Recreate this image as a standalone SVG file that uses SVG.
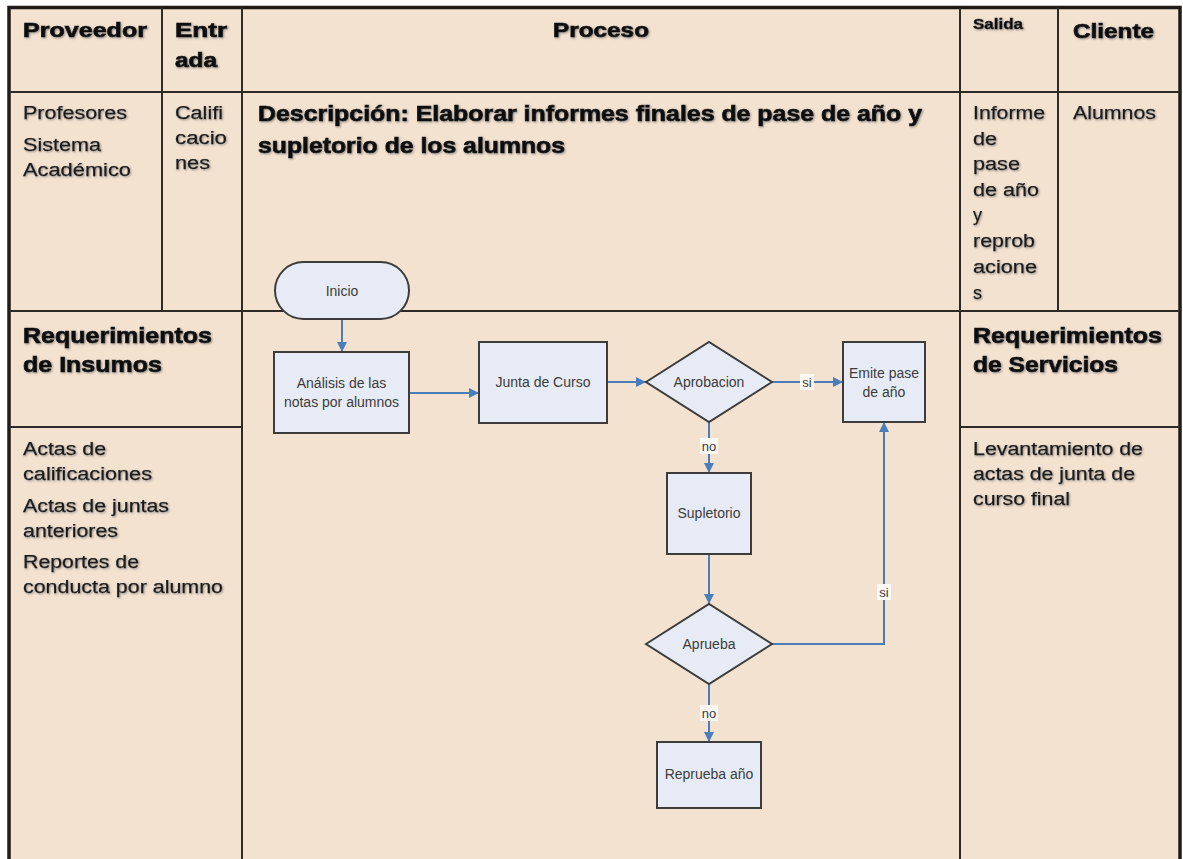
<svg xmlns="http://www.w3.org/2000/svg" width="1183" height="859" viewBox="0 0 1183 859">
<style>
.grid{stroke:#2e2a27;stroke-width:2;fill:none}
.hd{font-family:"Liberation Sans",Arial,sans-serif;font-weight:bold;fill:#111;stroke:#111;stroke-width:0.7;filter:url(#sh)}
.tx{font-family:"Liberation Sans",Arial,sans-serif;fill:#1a1a1a;stroke:#1a1a1a;stroke-width:0.25;font-size:18px;filter:url(#sh)}
.node{fill:#e6ebf6;stroke:#3c3c3c;stroke-width:2}
.nt{font-family:"Liberation Sans",Arial,sans-serif;font-size:14px;fill:#3c3c3c;text-anchor:middle}
.cn{stroke:#4a7ebb;stroke-width:2;fill:none}
.lb{fill:#fbf8f4}
.lt{font-family:"Liberation Sans",Arial,sans-serif;font-size:13px;fill:#3c3c3c;text-anchor:middle}
</style>
<defs>
<filter id="sh" x="-5%" y="-20%" width="110%" height="140%">
<feDropShadow dx="1" dy="1" stdDeviation="0.8" flood-color="#666" flood-opacity="0.7"/>
</filter>
<marker id="ar" markerUnits="userSpaceOnUse" markerWidth="10" markerHeight="10" viewBox="0 0 10 10" refX="10" refY="5" orient="auto">
<path d="M0,0 L10,5 L0,10 z" fill="#4a7ebb"/>
</marker>
</defs>
<rect x="0" y="0" width="1183" height="859" fill="#ffffff"/>
<g id="table">
<rect x="9" y="7.5" width="1171" height="870" fill="#f4e2d0" stroke="#1e1b19" stroke-width="3.5"/>
<path class="grid" d="M9,92 H1180 M9,311 H1180 M162,7.5 V311 M242,7.5 V870 M960,7.5 V870 M1058,7.5 V311 M9,427 H242 M960,427 H1180"/>
</g>
<g id="texts">
<text class="hd" x="23" y="37" font-size="20" textLength="124" lengthAdjust="spacingAndGlyphs">Proveedor</text>
<text class="hd" x="175" y="37" font-size="20" textLength="52" lengthAdjust="spacingAndGlyphs">Entr</text>
<text class="hd" x="175" y="67" font-size="20" textLength="42" lengthAdjust="spacingAndGlyphs">ada</text>
<text class="hd" x="553" y="37" font-size="20" textLength="96" lengthAdjust="spacingAndGlyphs">Proceso</text>
<text class="hd" x="973" y="29" font-size="14" textLength="50" lengthAdjust="spacingAndGlyphs" style="stroke-width:0.4">Salida</text>
<text class="hd" x="1073" y="38" font-size="20" textLength="81" lengthAdjust="spacingAndGlyphs">Cliente</text>
<text class="tx" x="23" y="119" textLength="104" lengthAdjust="spacingAndGlyphs">Profesores</text>
<text class="tx" x="23" y="151" textLength="78" lengthAdjust="spacingAndGlyphs">Sistema</text>
<text class="tx" x="23" y="176" textLength="108" lengthAdjust="spacingAndGlyphs">Académico</text>
<text class="tx" x="175" y="119" textLength="48" lengthAdjust="spacingAndGlyphs">Califi</text>
<text class="tx" x="175" y="144" textLength="52" lengthAdjust="spacingAndGlyphs">cacio</text>
<text class="tx" x="175" y="169" textLength="35" lengthAdjust="spacingAndGlyphs">nes</text>
<text class="hd" x="258" y="121" font-size="22" textLength="664" lengthAdjust="spacingAndGlyphs">Descripción: Elaborar informes finales de pase de año y</text>
<text class="hd" x="258" y="153" font-size="22" textLength="307" lengthAdjust="spacingAndGlyphs">supletorio de los alumnos</text>
<text class="tx" x="973" y="119" textLength="72" lengthAdjust="spacingAndGlyphs">Informe</text>
<text class="tx" x="973" y="145" textLength="24" lengthAdjust="spacingAndGlyphs">de</text>
<text class="tx" x="973" y="170" textLength="47" lengthAdjust="spacingAndGlyphs">pase</text>
<text class="tx" x="973" y="196" textLength="66" lengthAdjust="spacingAndGlyphs">de año</text>
<text class="tx" x="973" y="221">y</text>
<text class="tx" x="973" y="247" textLength="62" lengthAdjust="spacingAndGlyphs">reprob</text>
<text class="tx" x="973" y="273" textLength="64" lengthAdjust="spacingAndGlyphs">acione</text>
<text class="tx" x="973" y="299">s</text>
<text class="tx" x="1073" y="119" textLength="83" lengthAdjust="spacingAndGlyphs">Alumnos</text>
<text class="hd" x="23" y="343" font-size="22" textLength="189" lengthAdjust="spacingAndGlyphs">Requerimientos</text>
<text class="hd" x="23" y="372" font-size="22" textLength="139" lengthAdjust="spacingAndGlyphs">de Insumos</text>
<text class="tx" x="23" y="455" textLength="83" lengthAdjust="spacingAndGlyphs">Actas de</text>
<text class="tx" x="23" y="480" textLength="129" lengthAdjust="spacingAndGlyphs">calificaciones</text>
<text class="tx" x="23" y="512" textLength="146" lengthAdjust="spacingAndGlyphs">Actas de juntas</text>
<text class="tx" x="23" y="537" textLength="95" lengthAdjust="spacingAndGlyphs">anteriores</text>
<text class="tx" x="23" y="568" textLength="116" lengthAdjust="spacingAndGlyphs">Reportes de</text>
<text class="tx" x="23" y="593" textLength="200" lengthAdjust="spacingAndGlyphs">conducta por alumno</text>
<text class="hd" x="973" y="343" font-size="22" textLength="189" lengthAdjust="spacingAndGlyphs">Requerimientos</text>
<text class="hd" x="973" y="372" font-size="22" textLength="145" lengthAdjust="spacingAndGlyphs">de Servicios</text>
<text class="tx" x="973" y="455" textLength="170" lengthAdjust="spacingAndGlyphs">Levantamiento de</text>
<text class="tx" x="973" y="480" textLength="162" lengthAdjust="spacingAndGlyphs">actas de junta de</text>
<text class="tx" x="973" y="505" textLength="97" lengthAdjust="spacingAndGlyphs">curso final</text>
</g>
<g id="connectors">
<path class="cn" d="M342,319 V352" marker-end="url(#ar)"/>
<path class="cn" d="M409,393 H479" marker-end="url(#ar)"/>
<path class="cn" d="M607,382 H646" marker-end="url(#ar)"/>
<path class="cn" d="M772,382 H843" marker-end="url(#ar)"/>
<path class="cn" d="M709,422 V473" marker-end="url(#ar)"/>
<path class="cn" d="M709,554 V604" marker-end="url(#ar)"/>
<path class="cn" d="M772,644 H884 V422" marker-end="url(#ar)"/>
<path class="cn" d="M709,684 V742" marker-end="url(#ar)"/>
<rect class="lb" x="800" y="374" width="14" height="16"/>
<text class="lt" x="807" y="387">si</text>
<rect class="lb" x="700" y="438" width="18" height="16"/>
<text class="lt" x="709" y="451">no</text>
<rect class="lb" x="877" y="584" width="14" height="16"/>
<text class="lt" x="884" y="597">si</text>
<rect class="lb" x="700" y="705" width="18" height="16"/>
<text class="lt" x="709" y="718">no</text>
</g>
<g id="inicio">
<rect class="node" x="275" y="262" width="134" height="57" rx="28.5"/>
<text class="nt" x="342" y="296">Inicio</text>
</g>
<g id="analisis">
<rect class="node" x="274" y="352" width="135" height="81"/>
<text class="nt" x="341.5" y="388">Análisis de las</text>
<text class="nt" x="341.5" y="407">notas por alumnos</text>
</g>
<g id="junta">
<rect class="node" x="479" y="342" width="128" height="81"/>
<text class="nt" x="543" y="387">Junta de Curso</text>
</g>
<g id="aprobacion">
<polygon class="node" points="646,382 709,342 772,382 709,422"/>
<text class="nt" x="709" y="387">Aprobacion</text>
</g>
<g id="emite">
<rect class="node" x="843" y="342" width="82" height="80"/>
<text class="nt" x="884" y="378">Emite pase</text>
<text class="nt" x="884" y="397">de año</text>
</g>
<g id="supletorio">
<rect class="node" x="667" y="473" width="84" height="81"/>
<text class="nt" x="709" y="518">Supletorio</text>
</g>
<g id="aprueba">
<polygon class="node" points="646,644 709,604 772,644 709,684"/>
<text class="nt" x="709" y="649">Aprueba</text>
</g>
<g id="reprueba">
<rect class="node" x="657" y="742" width="104" height="66"/>
<text class="nt" x="709" y="779">Reprueba año</text>
</g>
</svg>
